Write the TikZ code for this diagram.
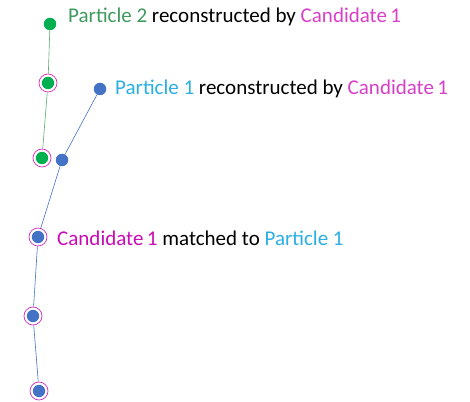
\documentclass[tikz,border=0pt]{standalone}
\usepackage{fontspec}
\setmainfont{Carlito}
\begin{document}
\definecolor{hitgreen}{HTML}{00B050}
\definecolor{trkgreen}{HTML}{5DAE70}
\definecolor{hitblue}{HTML}{4472C4}
\definecolor{labgreen}{HTML}{3E9A5E}
\definecolor{labblue}{HTML}{2AAEE4}
\definecolor{labmag}{HTML}{D83FC8}
\definecolor{labmagdark}{HTML}{CC0BB6}
\definecolor{ringmag}{HTML}{D030C0}
\begin{tikzpicture}[x=1pt,y=1pt,
  hit/.style={circle,inner sep=0pt,minimum size=12.5pt,fill=#1},
  ringed/.style={circle,inner sep=0pt,minimum size=18pt,draw=ringmag,line width=0.7pt,fill=white,
    path picture={\fill[#1] (path picture bounding box.center) circle (6.2pt);}},
  trk/.style={line width=0.6pt,draw=#1},
  lab/.style={anchor=west,inner sep=0pt,font=\fontsize{21}{24}\selectfont}]
\useasboundingbox (0,0) rectangle (470,401);
% track of particle 2
\node[hit=hitgreen] (g1) at (50,377) {};
\node[ringed=hitgreen] (g2) at (48,318) {};
\node[ringed=hitgreen] (g3) at (42,243) {};
% track of particle 1
\node[hit=hitblue] (b0) at (100,312) {};
\node[hit=hitblue] (b1) at (62,241) {};
\node[ringed=hitblue] (b2) at (38,164) {};
\node[ringed=hitblue] (b3) at (33,85) {};
\node[ringed=hitblue] (b4) at (39,10) {};
% connectors
\draw[trk=trkgreen] (g1) -- (g2);
\draw[trk=trkgreen] (g2) -- (g3);
\draw[trk=hitblue] (b0) -- (b1);
\draw[trk=hitblue] (b1) -- (b2);
\draw[trk=hitblue] (b2) -- (b3);
\draw[trk=hitblue] (b3) -- (b4);
% labels
\node[lab] (l1) at (68,384) {\textcolor{labgreen}{Particle 2} reconstructed by \textcolor{labmag}{Candidate\,1}};
\node[lab] (l2) at (115,312) {\textcolor{labblue}{Particle 1} reconstructed by \textcolor{labmag}{Candidate\,1}};
\node[lab] (l3) at (57,163) {\textcolor{labmagdark}{Candidate\,1} matched to \textcolor{labblue}{Particle 1}};
\end{tikzpicture}
\end{document}
